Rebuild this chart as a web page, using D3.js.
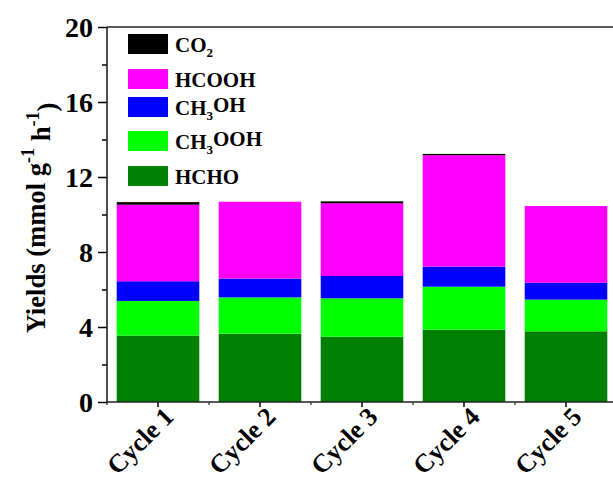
<!DOCTYPE html>
<html lang="en">
<head>
  <meta charset="UTF-8">
  <script src="https://cdn.jsdelivr.net/npm/d3@7"></script>
  <title>Yields per cycle</title>
  <style>
    body { margin: 0; background: #fff; }
    text { font-family: "Liberation Serif", "Times New Roman", serif; font-weight: bold; fill: #000; }
  </style>
</head>
<body>
  <svg width="613" height="482" id="chart"></svg>
  <script>
    // data (mmol g-1 h-1), stacked bottom -> top
    const cycles = ["Cycle 1", "Cycle 2", "Cycle 3", "Cycle 4", "Cycle 5"];
    const hcho   = [3.54, 3.64, 3.48, 3.86, 3.77];
    const ch3ooh = [1.85, 1.94, 2.05, 2.29, 1.69];
    const ch3oh  = [1.05, 1.00, 1.19, 1.07, 0.90];
    const hcooh  = [4.08, 4.10, 3.88, 5.94, 4.09];
    const co2    = [0.14, 0.00, 0.10, 0.07, 0.00];
    const yTicks = [0, 4, 8, 12, 16, 20];

    // legend order (top -> bottom) with label parts [text, subscript?]
    const series = [
      { key: "CO2",    values: co2,    color: "#000000", label: [["CO", 0], ["2", 1]] },
      { key: "HCOOH",  values: hcooh,  color: "#ff00ff", label: [["HCOOH", 0]] },
      { key: "CH3OH",  values: ch3oh,  color: "#0000ff", label: [["CH", 0], ["3", 1], ["OH", 0]] },
      { key: "CH3OOH", values: ch3ooh, color: "#00ff00", label: [["CH", 0], ["3", 1], ["OOH", 0]] },
      { key: "HCHO",   values: hcho,   color: "#008000", label: [["HCHO", 0]] }
    ];
    const stackOrder = ["HCHO", "CH3OOH", "CH3OH", "HCOOH", "CO2"];

    const svg = d3.select("#chart");
    const m = { left: 107, right: 617, top: 27, bottom: 402 };

    const table = cycles.map((c, i) => {
      const row = { cycle: c };
      series.forEach(s => row[s.key] = s.values[i]);
      return row;
    });

    const x = d3.scaleBand().domain(cycles).range([m.left, m.right])
      .paddingInner(0.19).paddingOuter(0.095);
    const y = d3.scaleLinear().domain([0, 20]).range([m.bottom, m.top]);
    const color = d3.scaleOrdinal().domain(series.map(s => s.key)).range(series.map(s => s.color));

    const stacked = d3.stack().keys(stackOrder)(table);

    /* BARS */
    svg.append("g").selectAll("g")
      .data(stacked)
      .join("g")
      .attr("fill", d => color(d.key))
      .selectAll("rect")
      .data(d => d)
      .join("rect")
      .attr("x", d => x(d.data.cycle))
      .attr("width", x.bandwidth())
      .attr("y", d => y(d[1]))
      .attr("height", d => y(d[0]) - y(d[1]));

    /* AXES */
    const axisY = d3.axisLeft(y).tickValues(yTicks).tickSize(9).tickPadding(5);
    const gy = svg.append("g").attr("transform", `translate(${m.left},0)`).call(axisY);
    gy.select(".domain").remove();
    gy.selectAll("text").style("font-size", "28px").attr("dy", "0.35em");

    const axisYMinor = d3.axisLeft(y).tickValues([2, 6, 10, 14, 18]).tickSize(5).tickFormat("");
    const gym = svg.append("g").attr("transform", `translate(${m.left},0)`).call(axisYMinor);
    gym.select(".domain").remove();

    const axisX = d3.axisBottom(x).tickSize(5).tickFormat("");
    const gx = svg.append("g").attr("transform", `translate(0,${m.bottom})`).call(axisX);
    gx.select(".domain").remove();

    const bounds = d3.range(cycles.length + 1).map(i => m.left + i * x.step());
    svg.append("g").selectAll("line")
      .data(bounds)
      .join("line")
      .attr("x1", d => d).attr("x2", d => d)
      .attr("y1", m.bottom).attr("y2", m.bottom + 3)
      .attr("stroke", "#000");

    svg.selectAll(".tick line").attr("stroke-width", 1.5);

    // frame: left, top and bottom lines
    const frame = svg.append("g").attr("stroke", "#222").attr("stroke-width", 1.6).attr("fill", "none");
    frame.append("line").attr("x1", m.left).attr("x2", m.left).attr("y1", m.top).attr("y2", m.bottom);
    frame.append("line").attr("x1", m.left).attr("x2", m.right).attr("y1", m.top).attr("y2", m.top);
    frame.append("line").attr("x1", m.left).attr("x2", m.right).attr("y1", m.bottom).attr("y2", m.bottom);
    frame.append("line").attr("x1", m.right).attr("x2", m.right).attr("y1", m.top).attr("y2", m.bottom);

    // category labels, rotated
    svg.append("g").selectAll("text")
      .data(cycles)
      .join("text")
      .attr("transform", d => `translate(${x(d) + x.bandwidth() / 2 + 4},${m.bottom + 3}) rotate(-45)`)
      .attr("text-anchor", "end")
      .attr("dy", "0.72em")
      .style("font-size", "26px")
      .text(d => d);

    /* Y TITLE */
    const title = svg.append("text")
      .attr("transform", `translate(45,218) rotate(-90) scale(0.95,1)`)
      .attr("text-anchor", "middle")
      .style("font-size", "28px");
    title.append("tspan").text("Yields (mmol g");
    title.append("tspan").attr("dy", "-0.6em").style("font-size", "19px").text("-1");
    title.append("tspan").attr("dy", "0.6em").text(" h");
    title.append("tspan").attr("dy", "-0.6em").style("font-size", "19px").text("-1");
    title.append("tspan").attr("dy", "0.6em").text(")");

    /* LEGEND */
    const legendY = [34, 69, 97, 131, 166];
    const legend = svg.append("g").selectAll("g")
      .data(series)
      .join("g")
      .attr("transform", (d, i) => `translate(128,${legendY[i]})`);
    legend.append("rect")
      .attr("width", 40).attr("height", 20)
      .attr("fill", d => d.color);
    const lt = legend.append("text")
      .attr("x", 47).attr("y", 18)
      .style("font-size", "21px");
    lt.selectAll("tspan")
      .data(d => d.label)
      .join("tspan")
      .attr("dy", (p, i, nodes) => {
        const prevSub = i > 0 && d3.select(nodes[i - 1]).datum()[1];
        if (p[1]) return "0.35em";
        return prevSub ? "-0.35em" : null;
      })
      .style("font-size", p => p[1] ? "13px" : null)
      .text(p => p[0]);
  </script>
</body>
</html>
